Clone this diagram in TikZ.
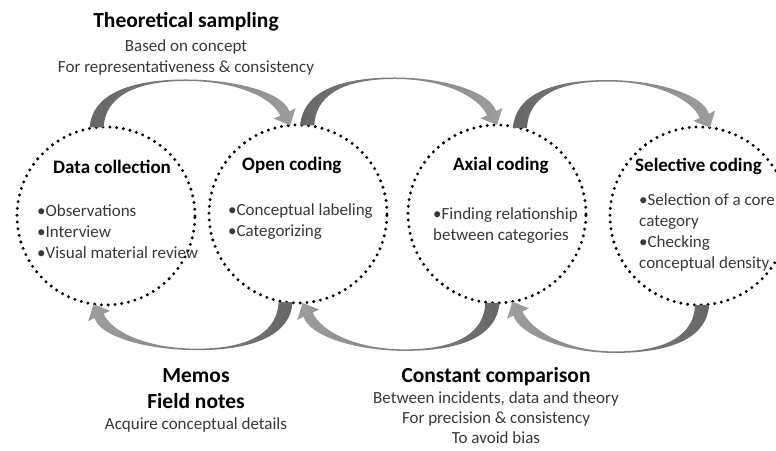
\documentclass[tikz,border=0pt]{standalone}
\usepackage{fontspec}
\setmainfont{Carlito}
\usetikzlibrary{positioning,calc}
\tikzstyle{stage} = [circle, draw=black, line width=3.3pt, dash pattern=on 0pt off 6.8pt, line cap=round, minimum size=178pt, inner sep=0pt, outer sep=0pt]
\tikzstyle{stagetitle} = [font=\fontsize{19}{23}\selectfont\bfseries, anchor=west, inner sep=0pt]
\tikzstyle{stageitems} = [font=\fontsize{17}{21}\selectfont, text=black!78, align=left, anchor=west, inner sep=0pt]
\tikzstyle{bigtitle} = [font=\fontsize{21.5}{26}\selectfont\bfseries, align=center, inner sep=0pt]
\tikzstyle{notes} = [font=\fontsize{17}{21}\selectfont, text=black!78, align=center, inner sep=0pt]
\tikzstyle{fwdarrow} = [left color=black!60, middle color=black!12, right color=black!38]
\tikzstyle{backarrow} = [left color=black!38, middle color=black!12, right color=black!60]
\newcommand{\swoop}[3]{%
	\shade[#3] let \p1=(#1), \p2=(#2), \n1={\x2-\x1}, \n2={sign(\n1)} in
		({\x1-7*\n2}, \y1)
		.. controls ({\x1-5*\n2}, {\y1+32*\n2}) and ({\x1+0.46*\n1-58*\n2}, {\y1+48*\n2}) ..
		({\x1+0.46*\n1}, {\y1+48*\n2})
		.. controls ({\x1+0.46*\n1+52*\n2}, {\y1+48*\n2}) and ({\x2-6*\n2}, {\y2+32*\n2}) ..
		({\x2-1*\n2}, {\y2+14*\n2}) -- ({\x2+5.4*\n2}, {\y2+17*\n2}) -- (\x2, \y2)
		-- ({\x2-16.4*\n2}, {\y2+6.7*\n2}) -- ({\x2-10*\n2}, {\y2+9.7*\n2})
		.. controls ({\x2-18*\n2}, {\y2+28*\n2}) and ({\x1+0.46*\n1+50*\n2}, {\y1+46.5*\n2}) ..
		({\x1+0.46*\n1}, {\y1+46.5*\n2})
		.. controls ({\x1+0.46*\n1-55*\n2}, {\y1+46.5*\n2}) and ({\x1+8*\n2}, {\y1+28*\n2}) ..
		({\x1+7*\n2}, \y1) -- cycle;
}

\begin{document}
\begin{tikzpicture}[x=1pt, y=1pt]
	\useasboundingbox (0,0) rectangle (776,450);
	\node[stage] (dc) at (106,234) {};
	\node[stage] (oc) at (298,236) {};
	\node[stage] (ac) at (497,236) {};
	\node[stage] (sc) at (699,234) {};
	\node[stagetitle] (dct) at (53,283) {Data collection};
	\node[stageitems] (dci) at (37,218) {•Observations\\•Interview\\•Visual material review};
	\node[stagetitle] (oct) at (242,285) {Open coding};
	\node[stageitems] (oci) at (228,228.5) {•Conceptual labeling\\•Categorizing};
	\node[stagetitle] (act) at (453,285) {Axial coding};
	\node[stageitems] (aci) at (433,224.5) {•Finding relationship\\between categories};
	\node[stagetitle] (sct) at (635,284) {Selective coding};
	\node[stageitems] (sci) at (639,218) {•Selection of a core\\category\\•Checking\\conceptual density};
	\node[bigtitle] (ts) at (186,428) {Theoretical sampling};
	\node[notes, below=8pt of ts] (tsn) {Based on concept\\For representativeness \& consistency};
	\node[bigtitle] (memo) at (196,61) {Memos\\Field notes};
	\node[notes, below=8pt of memo] (memon) {Acquire conceptual details};
	\node[bigtitle] (cc) at (496,73) {Constant comparison};
	\node[notes, below=5pt of cc, font=\fontsize{17}{20}\selectfont] (ccn) {Between incidents, data and theory\\For precision \& consistency\\To avoid bias};
	\swoop{dc.96}{oc.95}{fwdarrow}
	\swoop{oc.84}{ac.90}{fwdarrow}
	\swoop{ac.75}{sc.83}{fwdarrow}
	\swoop{oc.-98}{dc.-98}{backarrow}
	\swoop{ac.-93}{oc.-87}{backarrow}
	\swoop{sc.-88}{ac.-80}{backarrow}
\end{tikzpicture}
\end{document}
